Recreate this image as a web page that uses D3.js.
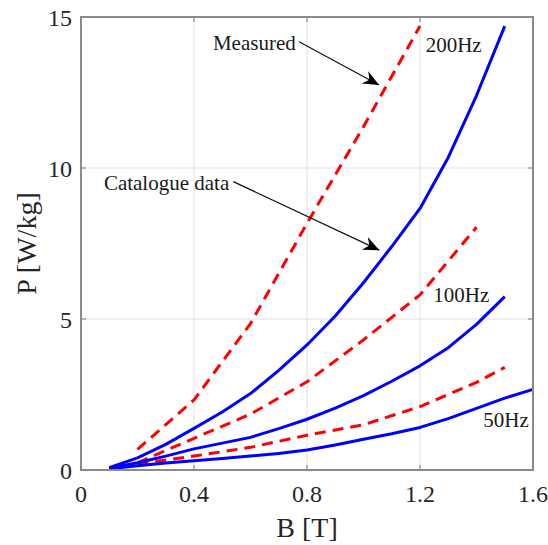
<!DOCTYPE html>
<html>
<head>
<meta charset="utf-8">
<script src="https://cdn.jsdelivr.net/npm/d3@7/dist/d3.min.js"></script>
<style>
  html, body { margin: 0; padding: 0; background: #fff; }
  svg { display: block; }
  text { font-family: "Liberation Serif", "Times New Roman", serif; }
</style>
</head>
<body>
<svg id="chart" width="548" height="545"></svg>
<script>
// Flux density B [T] and specific core loss P [W/kg]
const bCatalogue = [0.1, 0.2, 0.3, 0.4, 0.5, 0.6, 0.7, 0.8, 0.9, 1.0, 1.1, 1.2, 1.3, 1.4, 1.5, 1.6];
const pCat50  = [0.04, 0.14, 0.23, 0.31, 0.38, 0.46, 0.55, 0.66, 0.83, 1.02, 1.20, 1.41, 1.70, 2.04, 2.38, 2.67];
const pCat100 = [0.06, 0.24, 0.46, 0.70, 0.89, 1.08, 1.37, 1.68, 2.05, 2.46, 2.94, 3.45, 4.05, 4.82, 5.74];
const pCat200 = [0.08, 0.40, 0.85, 1.38, 1.92, 2.53, 3.30, 4.14, 5.10, 6.20, 7.40, 8.66, 10.35, 12.40, 14.70];

const bMeasured = [0.2, 0.4, 0.6, 0.8, 1.0, 1.2, 1.4, 1.5];
const pMeas50  = [0.20, 0.46, 0.75, 1.15, 1.50, 2.10, 2.90, 3.40];
const pMeas100 = [0.24, 1.05, 1.85, 2.92, 4.31, 5.80, 8.04];
const pMeas200 = [0.68, 2.32, 4.85, 8.17, 11.37, 14.70];

const xTicks = [0, 0.4, 0.8, 1.2, 1.6];
const yTicks = [0, 5, 10, 15];

// Frequency labels and annotation anchors, in data units (B, P)
const freqLabels = [
  { text: "200Hz", b: 1.22, p: 13.85 },
  { text: "100Hz", b: 1.247, p: 5.57 },
  { text: "50Hz",  b: 1.424, p: 1.43 }
];
const notes = [
  { text: "Measured",       b: 0.467, p: 13.91, from: [0.772, 14.18], to: [1.055, 12.75] },
  { text: "Catalogue data", b: 0.081, p: 9.27,  from: [0.539, 9.55],  to: [1.056, 7.28] }
];

const svg = d3.select("#chart");
const margin = { left: 81, right: 15, top: 17, bottom: 75 };
const W = 548, H = 545;

const x = d3.scaleLinear().domain([0, 1.6]).range([margin.left, W - margin.right]);
const y = d3.scaleLinear().domain([0, 15]).range([H - margin.bottom, margin.top]);

// grid
const grid = svg.append("g");
grid.selectAll("line.gx").data(xTicks.slice(1, -1)).join("line")
  .attr("x1", d => x(d)).attr("x2", d => x(d))
  .attr("y1", y(0)).attr("y2", y(15))
  .attr("stroke", "#e1e1e1").attr("stroke-width", 1);
grid.selectAll("line.gy").data(yTicks.slice(1, -1)).join("line")
  .attr("x1", x(0)).attr("x2", x(1.6))
  .attr("y1", d => y(d)).attr("y2", d => y(d))
  .attr("stroke", "#e1e1e1").attr("stroke-width", 1);

// series
const line = d3.line().x(d => x(d[0])).y(d => y(d[1]));
const zipB = (bs, ps) => ps.map((p, i) => [bs[i], p]);

const series = [
  { pts: zipB(bMeasured, pMeas200), color: "#ff0000", dash: "11,7" },
  { pts: zipB(bMeasured, pMeas100), color: "#ff0000", dash: "11,7" },
  { pts: zipB(bMeasured, pMeas50),  color: "#ff0000", dash: "11,7" },
  { pts: zipB(bCatalogue, pCat200), color: "#0000ff", dash: null },
  { pts: zipB(bCatalogue, pCat100), color: "#0000ff", dash: null },
  { pts: zipB(bCatalogue, pCat50),  color: "#0000ff", dash: null }
];
svg.append("g").selectAll("path").data(series).join("path")
  .attr("d", d => line(d.pts))
  .attr("fill", "none")
  .attr("stroke", d => d.color)
  .attr("stroke-width", 3)
  .attr("stroke-dasharray", d => d.dash)
  .attr("stroke-linejoin", "round");

// axes box with inward ticks
const axisColor = "#8a8a8a";
const box = svg.append("g");
box.append("rect")
  .attr("x", x(0)).attr("y", y(15))
  .attr("width", x(1.6) - x(0)).attr("height", y(0) - y(15))
  .attr("fill", "none").attr("stroke", axisColor).attr("stroke-width", 2);
const tl = 5;
box.selectAll("line.tx").data(xTicks).join("line")
  .attr("x1", d => x(d)).attr("x2", d => x(d)).attr("y1", y(0)).attr("y2", y(0) - tl)
  .attr("stroke", axisColor).attr("stroke-width", 1.2);
box.selectAll("line.tx2").data(xTicks).join("line")
  .attr("x1", d => x(d)).attr("x2", d => x(d)).attr("y1", y(15)).attr("y2", y(15) + tl)
  .attr("stroke", axisColor).attr("stroke-width", 1.2);
box.selectAll("line.ty").data(yTicks).join("line")
  .attr("x1", x(0)).attr("x2", x(0) + tl).attr("y1", d => y(d)).attr("y2", d => y(d))
  .attr("stroke", axisColor).attr("stroke-width", 1.2);
box.selectAll("line.ty2").data(yTicks).join("line")
  .attr("x1", x(1.6)).attr("x2", x(1.6) - tl).attr("y1", d => y(d)).attr("y2", d => y(d))
  .attr("stroke", axisColor).attr("stroke-width", 1.2);

// tick labels
const tickColor = "#262626";
svg.append("g").selectAll("text").data(xTicks).join("text")
  .attr("x", d => x(d)).attr("y", y(0) + 32)
  .attr("text-anchor", "middle").attr("font-size", 24).attr("fill", tickColor)
  .text(d => d3.format("")(d));
svg.append("g").selectAll("text").data(yTicks).join("text")
  .attr("x", x(0) - 9).attr("y", d => y(d) + 9)
  .attr("text-anchor", "end").attr("font-size", 24).attr("fill", tickColor)
  .text(d => d);

// axis titles
svg.append("text")
  .attr("x", (x(0) + x(1.6)) / 2).attr("y", 537)
  .attr("text-anchor", "middle").attr("font-size", 28).attr("fill", tickColor)
  .text("B [T]");
svg.append("text")
  .attr("transform", `translate(36,${(y(0) + y(15)) / 2}) rotate(-90)`)
  .attr("text-anchor", "middle").attr("font-size", 28).attr("fill", tickColor)
  .text("P [W/kg]");

// frequency labels
svg.append("g").selectAll("text").data(freqLabels).join("text")
  .attr("x", d => x(d.b)).attr("y", d => y(d.p))
  .attr("font-size", 21).attr("fill", "#1a1a1a")
  .text(d => d.text);

// arrow annotations
svg.append("defs").append("marker")
  .attr("id", "head").attr("viewBox", "-17 -8 19 16")
  .attr("refX", 0).attr("refY", 0)
  .attr("markerWidth", 19).attr("markerHeight", 16)
  .attr("markerUnits", "userSpaceOnUse")
  .attr("orient", "auto")
  .append("path").attr("d", "M0,0 L-16,-7 L-11,0 L-16,7 Z").attr("fill", "#000");

const ann = svg.append("g");
ann.selectAll("line").data(notes).join("line")
  .attr("x1", d => x(d.from[0])).attr("y1", d => y(d.from[1]))
  .attr("x2", d => x(d.to[0])).attr("y2", d => y(d.to[1]))
  .attr("stroke", "#111").attr("stroke-width", 1.2)
  .attr("marker-end", "url(#head)");
ann.selectAll("text").data(notes).join("text")
  .attr("x", d => x(d.b)).attr("y", d => y(d.p))
  .attr("font-size", 21).attr("fill", "#1a1a1a")
  .text(d => d.text);
</script>
</body>
</html>
